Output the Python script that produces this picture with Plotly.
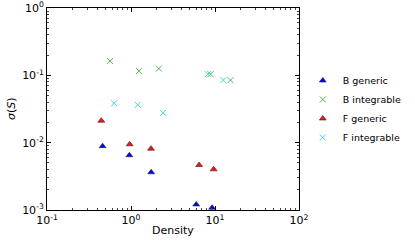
import plotly.graph_objects as go

# Data
b_generic_x = [0.459, 0.956, 1.74, 5.98, 9.24]
b_generic_y = [0.00887, 0.0065, 0.00363, 0.00121, 0.00108]
f_generic_x = [0.443, 0.964, 1.73, 6.47, 9.64]
f_generic_y = [0.0212, 0.00946, 0.00814, 0.00466, 0.00402]
b_integ_x = [0.563, 1.246, 2.15, 8.83, 15.3]
b_integ_y = [0.163, 0.1155, 0.126, 0.104, 0.0849]
f_integ_x = [0.631, 1.204, 2.41, 8.22, 12.56]
f_integ_y = [0.0386, 0.0364, 0.0277, 0.104, 0.0849]

x_tickvals = [0.1, 1, 10, 100]
x_ticktext = ["10<sup>-1</sup>", "10<sup>0</sup>", "10<sup>1</sup>", "10<sup>2</sup>"]
y_tickvals = [0.001, 0.01, 0.1, 1]
y_ticktext = ["10<sup>-3</sup>", "10<sup>-2</sup>", "10<sup>-1</sup>", "10<sup>0</sup>"]

x_minor = [m * 10.0 ** e for e in (-1, 0, 1) for m in range(2, 10)]
y_minor = [m * 10.0 ** e for e in (-3, -2, -1) for m in range(2, 10)]

FONT = "DejaVu Sans"

fig = go.Figure()
tri = dict(symbol="triangle-up", size=6, line=dict(color="#222222", width=0.6))
fig.add_trace(go.Scatter(x=b_generic_x, y=b_generic_y, mode="markers", name="B generic",
                         marker=dict(color="#0000ff", **tri)))
fig.add_trace(go.Scatter(x=b_integ_x, y=b_integ_y, mode="markers", name="B integrable",
                         marker=dict(symbol="x-thin", size=6, color="#55b755",
                                     line=dict(color="#55b755", width=1))))
fig.add_trace(go.Scatter(x=f_generic_x, y=f_generic_y, mode="markers", name="F generic",
                         marker=dict(color="#ff1010", **tri)))
fig.add_trace(go.Scatter(x=f_integ_x, y=f_integ_y, mode="markers", name="F integrable",
                         marker=dict(symbol="x-thin", size=6, color="#40d8d8",
                                     line=dict(color="#40d8d8", width=1))))

axis_common = dict(
    type="log", showgrid=False, zeroline=False, automargin=False,
    showline=True, linecolor="black", linewidth=1, mirror="allticks",
    ticks="inside", ticklen=4, tickcolor="black", tickwidth=1,
    tickfont=dict(family=FONT, size=11, color="black"),
)

fig.update_xaxes(range=[-1, 2], tickvals=x_tickvals, ticktext=x_ticktext,
                 minor=dict(tickvals=x_minor, ticks="inside", ticklen=2,
                            tickcolor="#444444", tickwidth=0.6, showgrid=False),
                 **axis_common)
fig.update_yaxes(range=[-3, 0], tickvals=y_tickvals, ticktext=y_ticktext,
                 minor=dict(tickvals=y_minor, ticks="inside", ticklen=2,
                            tickcolor="#444444", tickwidth=0.6, showgrid=False),
                 **axis_common)

fig.add_annotation(text="Density", xref="paper", yref="paper", x=0.5, y=0,
                   yshift=-20, xanchor="center", yanchor="middle", showarrow=False,
                   font=dict(family=FONT, size=11, color="black"))
fig.add_annotation(text="<i>σ</i>(<i>S</i>)", xref="paper", yref="paper", x=0, y=0.5,
                   xshift=-36, xanchor="center", yanchor="middle", showarrow=False,
                   textangle=-90, font=dict(family=FONT, size=11, color="black"))

fig.update_layout(
    width=415, height=242,
    margin=dict(l=47, r=107, t=8, b=32),
    paper_bgcolor="white", plot_bgcolor="white",
    font=dict(family=FONT, size=11, color="black"),
    legend=dict(x=1.015, xanchor="left", y=0.5, yanchor="middle",
                font=dict(family=FONT, size=9.5, color="black"),
                bgcolor="rgba(0,0,0,0)", tracegroupgap=0, itemwidth=30),
    showlegend=True,
)

fig.write_html("out.html", config={"displayModeBar": False},
               post_script="document.body.style.margin='0';document.body.style.overflow='hidden';")
